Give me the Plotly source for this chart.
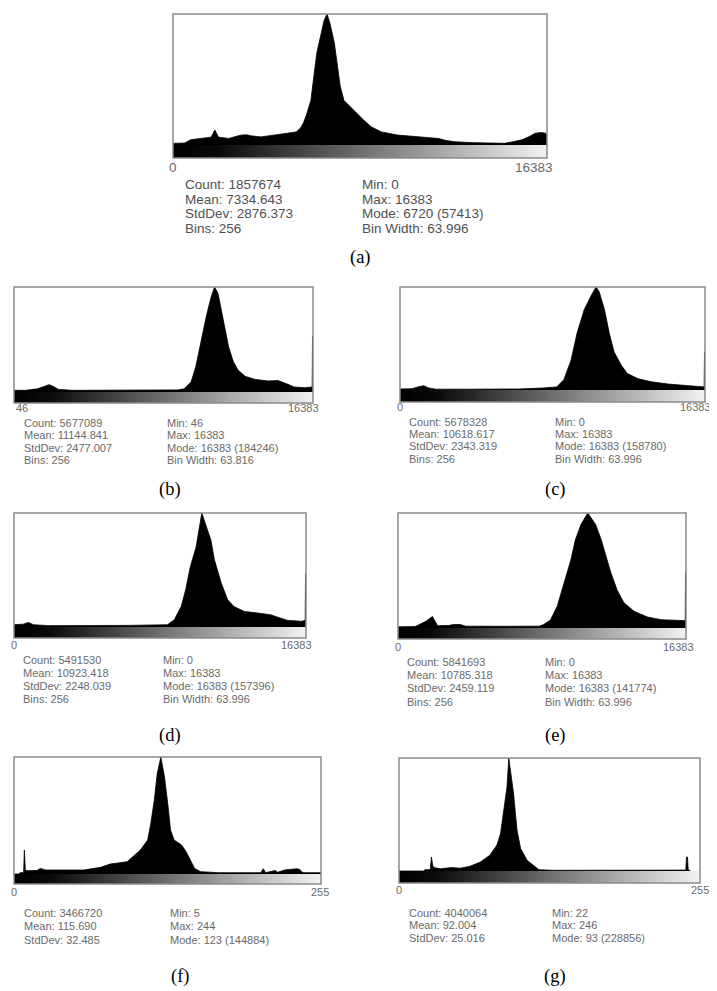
import plotly.graph_objects as go

W, H = 717, 991
OFF = 8  # default page margin of the html body

# ---------------- data (bin index 0..255, height relative to displayed max) -------------
a_x = [0, 8, 12, 20, 26, 28.5, 31, 38, 46, 50, 53, 60, 66, 72, 78, 84, 87, 89, 91, 94, 96, 98, 101, 103, 105, 107,
       110, 112, 114, 116.6, 121, 126, 130, 135, 142, 153, 160, 169, 175, 181, 186, 192, 204, 215, 226, 232, 238, 243,
       247, 251, 254, 255]
a_y = [0.012, 0.015, 0.04, 0.05, 0.06, 0.115, 0.06, 0.05, 0.075, 0.078, 0.07, 0.062, 0.07, 0.078, 0.09, 0.1, 0.13,
       0.17, 0.23, 0.34, 0.52, 0.70, 0.85, 0.95, 1.0, 0.93, 0.78, 0.60, 0.45, 0.34, 0.29, 0.24, 0.19, 0.14, 0.10,
       0.076, 0.07, 0.064, 0.06, 0.05, 0.035, 0.025, 0.018, 0.015, 0.013, 0.025, 0.04, 0.065, 0.09, 0.095, 0.09, 0.08]

b_x = [0, 10, 20, 26, 30, 34, 38, 50, 80, 110, 140, 145, 151, 155, 159, 164, 168, 171, 174, 177, 180, 183, 187, 191,
       197, 205.7, 217, 225, 232, 239, 248, 254.3, 254.6, 255]
b_y = [0.016, 0.016, 0.03, 0.05, 0.07, 0.05, 0.025, 0.016, 0.016, 0.018, 0.02, 0.03, 0.095, 0.24, 0.46, 0.72, 0.90,
       1.0, 0.94, 0.78, 0.59, 0.43, 0.29, 0.21, 0.15, 0.12, 0.105, 0.11, 0.08, 0.048, 0.04, 0.048, 0.53, 0.53]

c_x = [0, 10, 15, 19.6, 24, 30, 60, 100, 120, 131, 137, 143, 148, 154, 160, 164, 166.5, 171, 175, 179, 185, 190, 199,
       210, 224, 238, 254.3, 254.6, 255]
c_y = [0.01, 0.012, 0.03, 0.042, 0.02, 0.008, 0.008, 0.01, 0.02, 0.03, 0.1, 0.29, 0.55, 0.78, 0.92, 1.0, 0.955, 0.78,
       0.55, 0.37, 0.24, 0.16, 0.11, 0.08, 0.058, 0.042, 0.03, 0.37, 0.37]

d_x = [0, 8, 12.6, 17, 30, 60, 100, 134, 140, 146, 150, 154, 159, 164, 169, 172, 175, 181, 186.5, 192, 201, 216, 224,
       230, 239, 251, 254.3, 254.6, 255]
d_y = [0.02, 0.025, 0.04, 0.02, 0.012, 0.012, 0.014, 0.02, 0.064, 0.18, 0.33, 0.53, 0.70, 1.0, 0.85, 0.76, 0.59,
       0.385, 0.24, 0.18, 0.137, 0.117, 0.108, 0.087, 0.058, 0.05, 0.058, 0.47, 0.47]

e_x = [0, 15, 19, 25, 30.5, 33, 35, 45, 49, 55, 60, 90, 125, 129, 135, 141, 147, 153, 157, 162, 168, 175, 180, 182.5,
       188.5, 194, 200, 209, 221, 233, 245, 254.3, 254.6, 255]
e_y = [0.01, 0.012, 0.03, 0.06, 0.10, 0.06, 0.02, 0.022, 0.03, 0.03, 0.016, 0.015, 0.016, 0.03, 0.07, 0.19, 0.39, 0.59,
       0.766, 0.9, 1.0, 0.9, 0.766, 0.68, 0.48, 0.33, 0.22, 0.145, 0.095, 0.072, 0.064, 0.064, 0.48, 0.48]

f_x = [0, 4, 5, 8, 8.6, 9.4, 12, 19, 22, 26, 30, 58, 72, 80, 94, 100, 105, 111, 113.6, 116.5, 119, 122, 125, 128, 130,
       133, 139, 143, 147, 150, 155, 170, 205, 207, 209, 217, 219, 225, 235, 237, 240, 255]
f_y = [0.0, 0.0, 0.011, 0.011, 0.205, 0.03, 0.028, 0.03, 0.048, 0.035, 0.034, 0.034, 0.057, 0.085, 0.105, 0.16, 0.205,
       0.29, 0.43, 0.63, 0.86, 1.0, 0.83, 0.575, 0.376, 0.29, 0.25, 0.19, 0.105, 0.048, 0.02, 0.011, 0.011, 0.045,
       0.011, 0.03, 0.015, 0.035, 0.045, 0.04, 0.011, 0.011]

g_x = [0, 21, 22, 26.5, 27.5, 28.5, 29.5, 35, 44.6, 52, 60, 69, 77, 83, 86, 88.6, 91.5, 93, 97, 100, 103, 108.5, 114,
       118.5, 130, 200, 243, 243.6, 244.4, 245, 246, 247]
g_y = [0.0, 0.0, 0.012, 0.012, 0.124, 0.05, 0.03, 0.02, 0.03, 0.025, 0.041, 0.08, 0.14, 0.23, 0.33, 0.51, 0.745, 1.0,
       0.69, 0.36, 0.2, 0.095, 0.05, 0.012, 0.006, 0.006, 0.008, 0.124, 0.124, 0.01, 0.006, 0.0]

a_stats_left = ["Count: 1857674", "Mean: 7334.643", "StdDev: 2876.373", "Bins: 256"]
a_stats_right = ["Min: 0", "Max: 16383", "Mode: 6720 (57413)", "Bin Width: 63.996"]
b_stats_left = ["Count: 5677089", "Mean: 11144.841", "StdDev: 2477.007", "Bins: 256"]
b_stats_right = ["Min: 46", "Max: 16383", "Mode: 16383 (184246)", "Bin Width: 63.816"]
c_stats_left = ["Count: 5678328", "Mean: 10618.617", "StdDev: 2343.319", "Bins: 256"]
c_stats_right = ["Min: 0", "Max: 16383", "Mode: 16383 (158780)", "Bin Width: 63.996"]
d_stats_left = ["Count: 5491530", "Mean: 10923.418", "StdDev: 2248.039", "Bins: 256"]
d_stats_right = ["Min: 0", "Max: 16383", "Mode: 16383 (157396)", "Bin Width: 63.996"]
e_stats_left = ["Count: 5841693", "Mean: 10785.318", "StdDev: 2459.119", "Bins: 256"]
e_stats_right = ["Min: 0", "Max: 16383", "Mode: 16383 (141774)", "Bin Width: 63.996"]
f_stats_left = ["Count: 3466720", "Mean: 115.690", "StdDev: 32.485"]
f_stats_right = ["Min: 5", "Max: 244", "Mode: 123 (144884)"]
g_stats_left = ["Count: 4040064", "Mean: 92.004", "StdDev: 25.016"]
g_stats_right = ["Min: 22", "Max: 246", "Mode: 93 (228856)"]

a_ticks = ["0", "16383"]
b_ticks = ["46", "16383"]
c_ticks = ["0", "16383"]
d_ticks = ["0", "16383"]
e_ticks = ["0", "16383"]
f_ticks = ["0", "255"]
g_ticks = ["0", "255"]

captions = ["(a)", "(b)", "(c)", "(d)", "(e)", "(f)", "(g)"]

# ---------------- layout geometry (page pixels) ----------------
panels = [
    dict(x=a_x, y=a_y, sl=a_stats_left, sr=a_stats_right, t=a_ticks, L=173, R=547, T=14, B=145, G=158,
         ty=167, tl_anchor="center", tr=513, cl=183, cr=360, rows=[184, 199, 214, 229], fs=13.5, cap=(360, 257)),
    dict(x=b_x, y=b_y, sl=b_stats_left, sr=b_stats_right, t=b_ticks, L=14, R=313, T=287, B=392, G=403,
         ty=408, tl_anchor="left", tr=286, cl=22, cr=165, rows=[422.5, 435, 447.5, 460], fs=11, cap=(170, 490)),
    dict(x=c_x, y=c_y, sl=c_stats_left, sr=c_stats_right, t=c_ticks, L=400, R=705, T=287, B=390, G=402,
         ty=407, tl_anchor="center", tr=678, cl=407, cr=553, rows=[422, 434, 446, 459], fs=11, cap=(555, 490)),
    dict(x=d_x, y=d_y, sl=d_stats_left, sr=d_stats_right, t=d_ticks, L=14, R=306, T=513, B=627, G=638,
         ty=645, tl_anchor="center", tr=279, cl=21, cr=161, rows=[660, 673, 686, 699], fs=11, cap=(170, 735)),
    dict(x=e_x, y=e_y, sl=e_stats_left, sr=e_stats_right, t=e_ticks, L=398, R=686, T=513, B=628, G=639,
         ty=647, tl_anchor="center", tr=661, cl=405, cr=543, rows=[662, 675, 688, 702], fs=11, cap=(555, 735)),
    dict(x=f_x, y=f_y, sl=f_stats_left, sr=f_stats_right, t=f_ticks, L=14, R=321, T=757, B=874, G=884,
         ty=892, tl_anchor="center", tr=309, cl=22, cr=168, rows=[913, 926, 940], fs=11, cap=(180, 976)),
    dict(x=g_x, y=g_y, sl=g_stats_left, sr=g_stats_right, t=g_ticks, L=399, R=700, T=758, B=871, G=883,
         ty=890, tl_anchor="center", tr=689, cl=407, cr=550, rows=[913, 925, 938], fs=11, cap=(555, 976)),
]


def px(v):
    return (v - OFF) / W


def py(v):
    return 1 - (v - OFF) / H


fig = go.Figure()
layout = dict(width=W, height=H, autosize=False, margin=dict(l=0, r=0, t=0, b=0),
              paper_bgcolor="white", plot_bgcolor="white", showlegend=False)
annotations = []
shapes = []
ramp = [list(range(256))]
text_col = "#6a6a6a"
sans = "Liberation Sans, Arial"

for i, p in enumerate(panels):
    hn = 2 * i + 1
    gn = 2 * i + 2
    layout[f"xaxis{hn}"] = dict(domain=[px(p["L"]), px(p["R"])], range=[0, 255], anchor=f"y{hn}",
                                visible=False, fixedrange=True)
    layout[f"yaxis{hn}"] = dict(domain=[py(p["B"]), py(p["T"])], range=[0, 1.0], anchor=f"x{hn}",
                                visible=False, fixedrange=True)
    layout[f"xaxis{gn}"] = dict(domain=[px(p["L"]), px(p["R"])], range=[-0.5, 255.5], anchor=f"y{gn}",
                                visible=False, fixedrange=True)
    layout[f"yaxis{gn}"] = dict(domain=[py(p["G"]), py(p["B"])], range=[-0.5, 0.5], anchor=f"x{gn}",
                                visible=False, fixedrange=True)

    fig.add_trace(go.Scatter(x=p["x"], y=p["y"], mode="lines", fill="tozeroy",
                             fillcolor="black", line=dict(color="black", width=0.8),
                             xaxis=f"x{hn}", yaxis=f"y{hn}", hoverinfo="skip", cliponaxis=True))
    fig.add_trace(go.Heatmap(z=ramp, colorscale=[[0, "black"], [0.12, "#0a0a0a"], [1, "#f2f2f2"]],
                             showscale=False, xaxis=f"x{gn}", yaxis=f"y{gn}", hoverinfo="skip"))

    shapes.append(dict(type="rect", xref="paper", yref="paper", x0=px(p["L"]), x1=px(p["R"]),
                       y0=py(p["G"]), y1=py(p["T"]), line=dict(color="#8a8a8a", width=1.5)))

    fs_tick = p["fs"]
    annotations.append(dict(x=px(p["L"]), y=py(p["ty"]), xref="paper", yref="paper", text=p["t"][0],
                            showarrow=False, xanchor=p["tl_anchor"], yanchor="middle",
                            font=dict(family=sans, size=fs_tick, color=text_col)))
    annotations.append(dict(x=px(p["tr"]), y=py(p["ty"]), xref="paper", yref="paper", text=p["t"][1],
                            showarrow=False, xanchor="left", yanchor="middle",
                            font=dict(family=sans, size=fs_tick, color=text_col)))
    for r, (tl, trt) in enumerate(zip(p["sl"], p["sr"])):
        for xx, tt in ((p["cl"], tl), (p["cr"], trt)):
            annotations.append(dict(x=px(xx), y=py(p["rows"][r]), xref="paper", yref="paper", text=tt,
                                    showarrow=False, xanchor="left", yanchor="middle",
                                    font=dict(family=sans, size=p["fs"],
                                              color="#505050" if i == 0 else text_col)))
    annotations.append(dict(x=px(p["cap"][0]), y=py(p["cap"][1]), xref="paper", yref="paper",
                            text=captions[i], showarrow=False, xanchor="center", yanchor="middle",
                            font=dict(family="Liberation Serif, Times New Roman", size=18.5, color="black")))

layout["annotations"] = annotations
layout["shapes"] = shapes
fig.update_layout(**layout)
fig.write_html("out.html")
